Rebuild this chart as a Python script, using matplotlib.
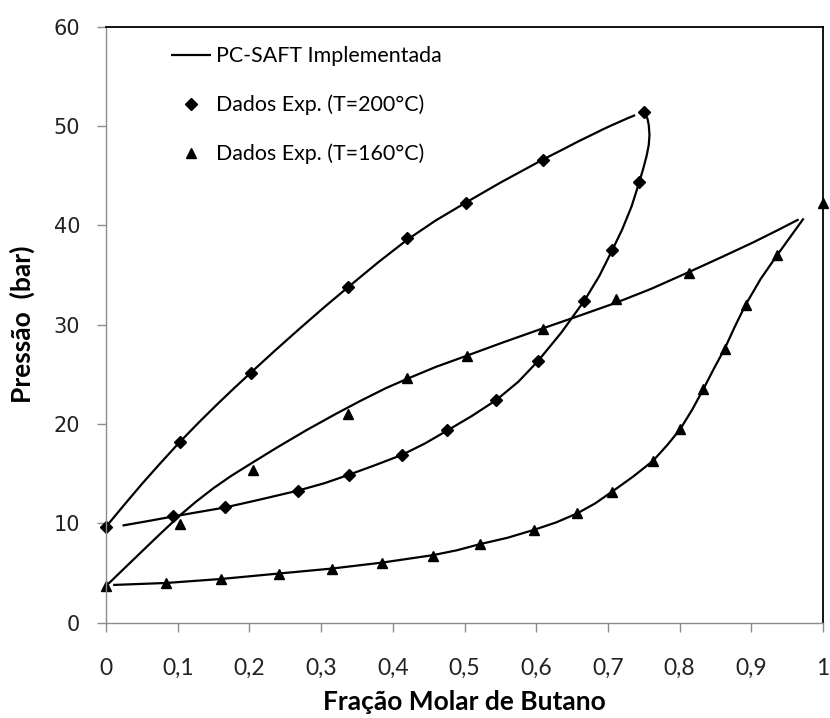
import matplotlib
matplotlib.use("Agg")
import matplotlib.pyplot as plt
from matplotlib.ticker import FuncFormatter

# ---- Data ----
# Experimental T=200 C (diamonds)
d200_liq_x = [0.0, 0.103, 0.202, 0.338, 0.420, 0.502, 0.610, 0.750]
d200_liq_p = [9.65, 18.2, 25.1, 33.8, 38.7, 42.3, 46.6, 51.4]
d200_vap_x = [0.094, 0.166, 0.268, 0.339, 0.413, 0.476, 0.544, 0.602, 0.667, 0.706, 0.744]
d200_vap_p = [10.7, 11.6, 13.3, 14.9, 16.9, 19.35, 22.4, 26.3, 32.4, 37.5, 44.4]

# Experimental T=160 C (triangles)
d160_liq_x = [0.0, 0.103, 0.205, 0.338, 0.420, 0.504, 0.610, 0.711, 0.813, 1.0]
d160_liq_p = [3.7, 9.98, 15.4, 21.0, 24.6, 26.8, 29.6, 32.6, 35.2, 42.3]
d160_vap_x = [0.084, 0.160, 0.241, 0.315, 0.385, 0.456, 0.521, 0.597, 0.657, 0.706,
              0.763, 0.801, 0.833, 0.863, 0.892, 0.936]
d160_vap_p = [3.95, 4.35, 4.95, 5.4, 6.0, 6.7, 7.9, 9.3, 11.0, 13.2,
              16.3, 19.5, 23.5, 27.6, 32.0, 37.0]

# PC-SAFT model curves
m200_liq_x = [0.0, 0.025, 0.05, 0.075, 0.103, 0.13, 0.155, 0.18, 0.202, 0.235, 0.27, 0.305,
              0.338, 0.38, 0.42, 0.46, 0.502, 0.55, 0.61, 0.64, 0.66, 0.68, 0.694, 0.706,
              0.717, 0.728, 0.738]
m200_liq_p = [9.65, 11.83, 13.96, 15.99, 18.2, 20.2, 21.98, 23.7, 25.17, 27.35, 29.6, 31.8,
              33.8, 36.3, 38.55, 40.5, 42.3, 44.3, 46.65, 47.75, 48.5, 49.2, 49.7, 50.1,
              50.45, 50.8, 51.1]
m200_vap_x = [0.023, 0.06, 0.094, 0.13, 0.166, 0.215, 0.268, 0.305, 0.339, 0.375, 0.413,
              0.445, 0.476, 0.51, 0.544, 0.575, 0.602, 0.635, 0.667, 0.688, 0.706, 0.72,
              0.733, 0.744, 0.750, 0.754, 0.757, 0.758, 0.757, 0.755, 0.750]
m200_vap_p = [9.78, 10.25, 10.7, 11.15, 11.6, 12.4, 13.3, 14.05, 14.9, 15.85, 16.9,
              18.05, 19.35, 20.8, 22.4, 24.25, 26.3, 29.2, 32.4, 34.9, 37.5, 39.6,
              41.9, 44.4, 45.9, 47.0, 48.1, 49.1, 50.1, 50.8, 51.3]
m160_liq_x = [0.003, 0.05, 0.075, 0.103, 0.125, 0.15, 0.175, 0.205, 0.24, 0.28, 0.32, 0.354,
              0.39, 0.42, 0.46, 0.504, 0.555, 0.61, 0.66, 0.711, 0.76, 0.813, 0.86, 0.903,
              0.935, 0.966]
m160_liq_p = [3.9, 7.17, 8.9, 10.8, 12.15, 13.55, 14.8, 16.15, 17.7, 19.4, 21.0, 22.3,
              23.6, 24.55, 25.75, 26.9, 28.25, 29.65, 30.9, 32.2, 33.6, 35.3, 36.85, 38.3,
              39.45, 40.6]
m160_vap_x = [0.01, 0.084, 0.160, 0.241, 0.315, 0.385, 0.456, 0.49, 0.521, 0.56, 0.597,
              0.628, 0.657, 0.682, 0.706, 0.735, 0.763, 0.783, 0.801, 0.818, 0.833, 0.848,
              0.863, 0.877, 0.892, 0.913, 0.936, 0.955, 0.973]
m160_vap_p = [3.8, 4.0, 4.4, 4.95, 5.45, 6.05, 6.8, 7.3, 7.9, 8.55, 9.35,
              10.1, 11.0, 12.0, 13.2, 14.7, 16.3, 17.9, 19.5, 21.5, 23.5, 25.6,
              27.6, 29.8, 32.0, 34.6, 37.0, 38.9, 40.7]

x_ticks = [0, 0.1, 0.2, 0.3, 0.4, 0.5, 0.6, 0.7, 0.8, 0.9, 1.0]
y_ticks = [0, 10, 20, 30, 40, 50, 60]

label_model = "PC-SAFT Implementada"
label_200 = "Dados Exp. (T=200°C)"
label_160 = "Dados Exp. (T=160°C)"
xlabel = "Fração Molar de Butano"
ylabel = "Pressão  (bar)"

# ---- Figure ----
plt.rcParams['font.family'] = ['Lato', 'DejaVu Sans']
fig = plt.figure(figsize=(8.30, 7.18), dpi=100)
ax = fig.add_axes([106/830, 1 - 622.7/718, (823 - 106)/830, (622.7 - 26.7)/718])

lw = 1.6
kw = dict(color='black', lw=lw, solid_capstyle='butt', solid_joinstyle='round')
ax.plot(m200_liq_x, m200_liq_p, label=label_model, **kw)
ax.plot(m200_vap_x, m200_vap_p, **kw)
ax.plot(m160_liq_x, m160_liq_p, **kw)
ax.plot(m160_vap_x, m160_vap_p, **kw)

ax.plot(d200_liq_x, d200_liq_p, 'D', color='black', ms=6.5, label=label_200, clip_on=False)
ax.plot(d200_vap_x, d200_vap_p, 'D', color='black', ms=6.5, clip_on=False)
ax.plot(d160_liq_x, d160_liq_p, '^', color='black', ms=7.5, label=label_160, clip_on=False)
ax.plot(d160_vap_x, d160_vap_p, '^', color='black', ms=7.5, clip_on=False)

ax.set_xlim(0, 1)
ax.set_ylim(0, 60)
ax.set_xticks(x_ticks)
ax.set_yticks(y_ticks)
ax.xaxis.set_major_formatter(FuncFormatter(lambda v, p: ('%g' % round(v, 1)).replace('.', ',')))
ax.yaxis.set_major_formatter(FuncFormatter(lambda v, p: '%d' % v))

for s in ['left', 'bottom']:
    ax.spines[s].set_color('#8c8c8c')
    ax.spines[s].set_linewidth(1.0)
for s in ['top', 'right']:
    ax.spines[s].set_color('black')
    ax.spines[s].set_linewidth(1.3)

ax.tick_params(axis='both', direction='out', length=6.5, width=1, color='#8c8c8c',
               labelcolor='#222222')
ax.tick_params(axis='x', pad=19, labelsize=16.5)
ax.tick_params(axis='y', pad=12)
for t in ax.get_yticklabels():
    t.set_fontfamily('DejaVu Sans')
    t.set_fontsize(15)

ax.set_xlabel(xlabel, fontsize=19, fontweight='bold')
ax.set_ylabel(ylabel, fontsize=19, fontweight='bold')
ax.xaxis.set_label_coords(0.5, -(690 - 622.7) / 596)
ax.yaxis.set_label_coords(-(106 - 35) / 717, 0.5)

leg = ax.legend(loc='upper left', bbox_to_anchor=(152/830, 1 - 27/718),
                bbox_transform=fig.transFigure, frameon=False, fontsize=15.4,
                numpoints=1, handlelength=1.85, handletextpad=0.25, labelspacing=1.33)

fig.savefig('out.png', dpi=100)
